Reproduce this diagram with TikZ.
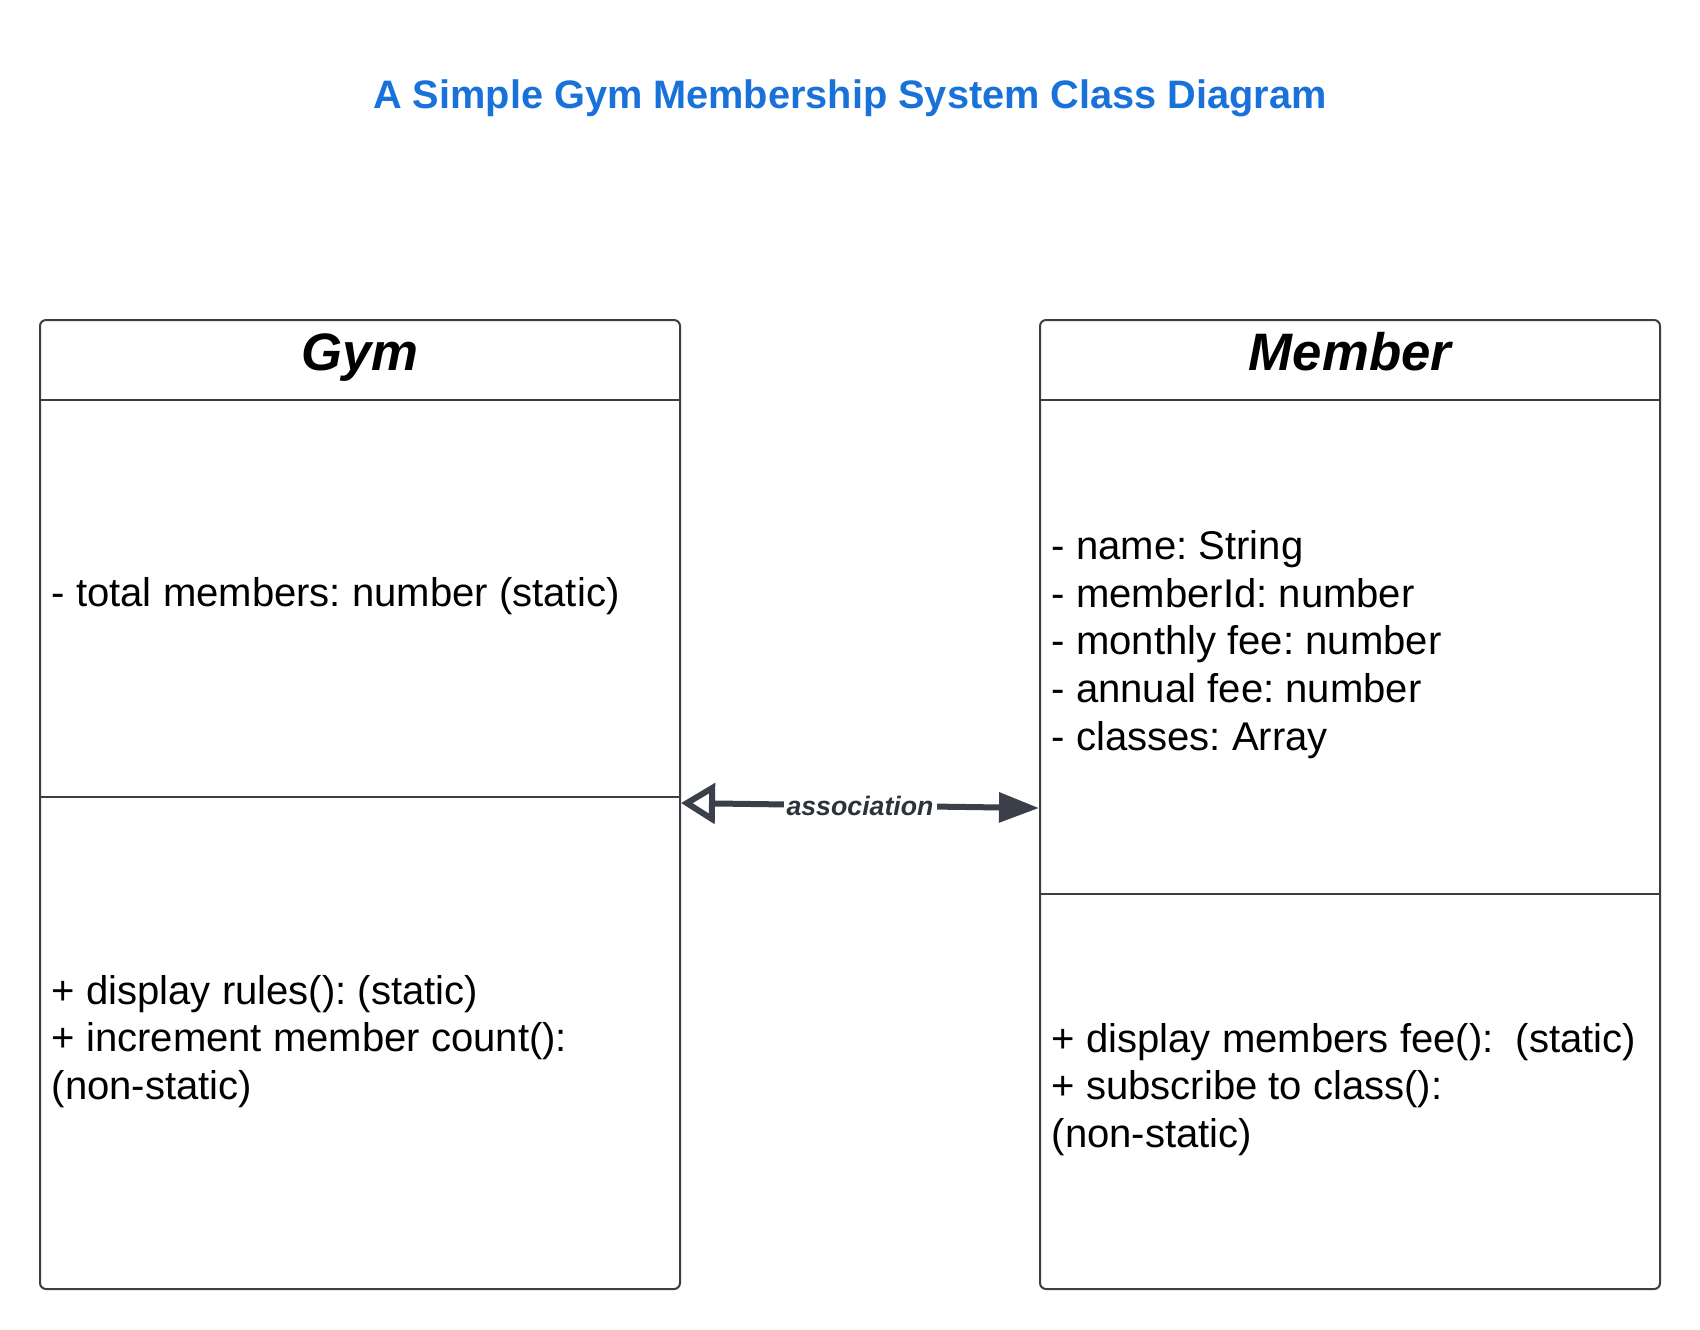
\documentclass[tikz,border=0pt]{standalone}
\usepackage{fontspec}
\setmainfont{Liberation Sans}
\usetikzlibrary{arrows.meta}
\frenchspacing

\definecolor{titleblue}{RGB}{24,114,218}
\definecolor{linegray}{RGB}{60,62,66}
\definecolor{arrowgray}{RGB}{58,63,74}

\tikzset{
  classbox/.style={draw=linegray, line width=0.2mm, rounded corners=0.6mm, inner sep=0},
  classline/.style={draw=linegray, line width=0.2mm},
  classname/.style={anchor=base, inner sep=0, font=\fontsize{15}{18}\selectfont\bfseries\itshape},
  featuretext/.style={anchor=west, align=left, inner sep=0, font=\fontsize{11.4}{13.55}\selectfont},
  assoc/.style={draw=arrowgray, line width=0.6mm,
    {Triangle[open,length=3.4mm,width=4mm,line width=0.6mm]}-{Triangle[length=4mm,width=2.9mm]}},
  assoclabel/.style={fill=white, text=arrowgray!80!black, inner xsep=0.3mm, inner ysep=0.5mm,
    font=\fontsize{7.6}{9}\selectfont\bfseries\itshape},
}

\begin{document}
\begin{tikzpicture}[x=0.1mm,y=-0.1mm]

  \def\hdr{400}	 %bottom of the name compartments
  \def\nameline{370}	 %baseline of the class names

  \useasboundingbox (0,0) rectangle (1700,1329);

  %TITLE
  \node[anchor=base, text=titleblue, inner sep=0, font=\fontsize{11.3}{13.6}\selectfont\bfseries] (title) at (850,108) {A Simple Gym Membership System Class Diagram};

  %CLASS BOXES
  \node[classbox, minimum width=64mm, minimum height=96.9mm] (gym) at (360,804.5) {};
  \node[classbox, minimum width=62mm, minimum height=96.9mm] (member) at (1350,804.5) {};

  %compartment lines
  \draw[classline] (gym.west |- 0,\hdr) -- (gym.east |- 0,\hdr);
  \draw[classline] (gym.west |- 0,797) -- (gym.east |- 0,797);
  \draw[classline] (member.west |- 0,\hdr) -- (member.east |- 0,\hdr);
  \draw[classline] (member.west |- 0,893.5) -- (member.east |- 0,893.5);

  %class names
  \node[classname] (gymname) at (gym.north |- 0,\nameline) {Gym};
  \node[classname] (membername) at (member.north |- 0,\nameline) {Member};

  %attributes and operations
  \node[featuretext] (gymattr) at ([xshift=1.2mm]gym.west |- 0,596.5) {- total members: number (static)};
  \node[featuretext] (gymops) at ([xshift=1.2mm]gym.west |- 0,1041.5) {+ display rules(): (static)\\+ increment member count():\\(non-static)};
  \node[featuretext] (memberattr) at ([xshift=1.2mm]member.west |- 0,644.5) {- name: String\\- memberId: number\\- monthly fee: number\\- annual fee: number\\- classes: Array};
  \node[featuretext] (memberops) at ([xshift=1.2mm]member.west |- 0,1089.5) {+ display members fee():\ \ (static)\\+ subscribe to class():\\(non-static)};

  %ASSOCIATION
  \draw[assoc] ([yshift=0.15mm]gym.east) -- node[assoclabel] (assoctext) {association} ([yshift=-0.35mm]member.west);

\end{tikzpicture}
\end{document}
